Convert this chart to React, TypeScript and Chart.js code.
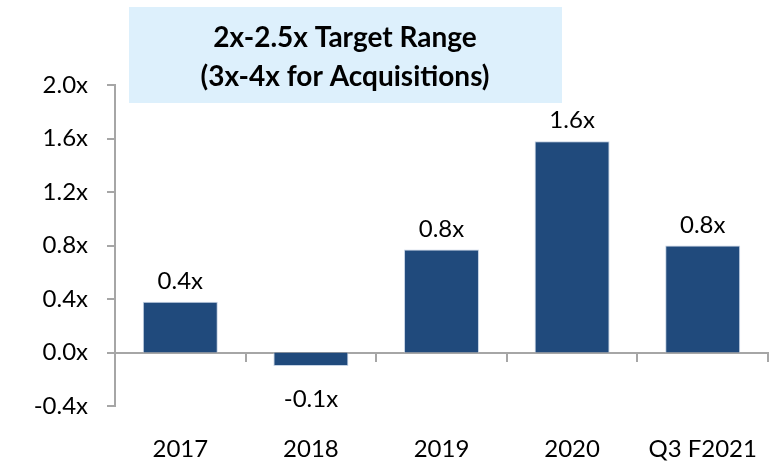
import React, { useEffect, useRef } from "react";
import { Chart, registerables } from "chart.js";

Chart.register(...registerables);

const categories = ["2017", "2018", "2019", "2020", "Q3 F2021"];
const leverage = [0.38, -0.1, 0.77, 1.58, 0.8];
const yTicks = { min: -0.4, max: 2.0, step: 0.4 };
const titleLines = ["2x-2.5x Target Range", "(3x-4x for Acquisitions)"];

const FONT = "Lato, 'Open Sans', sans-serif";
const AXIS_GRAY = "#A6A6A6";
const BAR_COLOR = "#204A7C";

const fmt = (v: number) => {
  const r = Math.abs(v) < 1e-9 ? 0 : v;
  return r.toFixed(1) + "x";
};

const titleBoxPlugin = {
  id: "titleBox",
  afterDraw(chart: any) {
    const ctx = chart.ctx;
    ctx.save();
    ctx.fillStyle = "#DDF0FC";
    ctx.fillRect(129, 7, 433, 96);
    ctx.fillStyle = "#000000";
    ctx.font = `bold 28px ${FONT}`;
    ctx.textAlign = "center";
    ctx.textBaseline = "alphabetic";
    ctx.fillText(titleLines[0], 345, 47);
    ctx.fillText(titleLines[1], 345, 86);
    ctx.restore();
  },
};

const valueLabelPlugin = {
  id: "valueLabels",
  afterDatasetsDraw(chart: any) {
    const ctx = chart.ctx;
    const meta = chart.getDatasetMeta(0);
    const data = chart.data.datasets[0].data as number[];
    ctx.save();
    ctx.fillStyle = "#000000";
    ctx.font = `24px ${FONT}`;
    ctx.textAlign = "center";
    ctx.textBaseline = "alphabetic";
    meta.data.forEach((el: any, i: number) => {
      const v = data[i];
      const y = v >= 0 ? el.y - 13 : el.y + 41;
      ctx.fillText(fmt(v), el.x, y);
    });
    ctx.restore();
  },
};

export default function App() {
  const ref = useRef<HTMLCanvasElement | null>(null);
  useEffect(() => {
    if (!ref.current) return;
    const chart = new Chart(ref.current, {
      type: "bar",
      data: {
        labels: categories,
        datasets: [
          {
            data: leverage,
            backgroundColor: BAR_COLOR,
            borderColor: "rgba(190,205,225,0.9)",
            borderWidth: 1,
            categoryPercentage: 1,
            barPercentage: 0.574,
          },
        ],
      },
      options: {
        responsive: false,
        animation: false,
        layout: { padding: { top: 85, right: 4, left: 0, bottom: 0 } },
        plugins: {
          legend: { display: false },
          tooltip: { enabled: false },
          title: { display: false },
        },
        scales: {
          x: {
            position: "bottom",
            offset: true,
            grid: { display: false, drawTicks: false },
            border: { display: false },
            ticks: {
              color: "#000000",
              font: { family: FONT, size: 24 },
              padding: 29,
              maxRotation: 0,
              autoSkip: false,
            },
            afterFit(scale: any) {
              scale.height = 56;
              scale.paddingLeft = 0;
              scale.paddingRight = 0;
            },
          },
          x2: {
            type: "category",
            position: { y: 0 },
            offset: true,
            grid: {
              offset: true,
              drawOnChartArea: false,
              drawTicks: true,
              tickLength: 8,
              color: AXIS_GRAY,
              lineWidth: 2,
            },
            border: { display: true, color: AXIS_GRAY, width: 2 },
            ticks: { display: false },
            afterFit(scale: any) {
              scale.paddingLeft = 0;
              scale.paddingRight = 0;
            },
          },
          y: {
            min: yTicks.min,
            max: yTicks.max,
            grid: {
              drawOnChartArea: false,
              drawTicks: true,
              tickLength: 8,
              color: AXIS_GRAY,
              lineWidth: 2,
            },
            border: { display: true, color: AXIS_GRAY, width: 2 },
            ticks: {
              stepSize: yTicks.step,
              color: "#000000",
              font: { family: FONT, size: 24 },
              padding: 19,
              callback: (v: any) => fmt(Number(v)),
            },
            afterFit(scale: any) {
              scale.width = 115;
            },
          },
        },
      } as any,
      plugins: [valueLabelPlugin, titleBoxPlugin],
    });
    return () => chart.destroy();
  }, []);
  return (
    <div style={{ position: "fixed", left: 0, top: 0, width: 772, height: 462, background: "#fff" }}>
      <canvas ref={ref} width={772} height={462} />
    </div>
  );
}
